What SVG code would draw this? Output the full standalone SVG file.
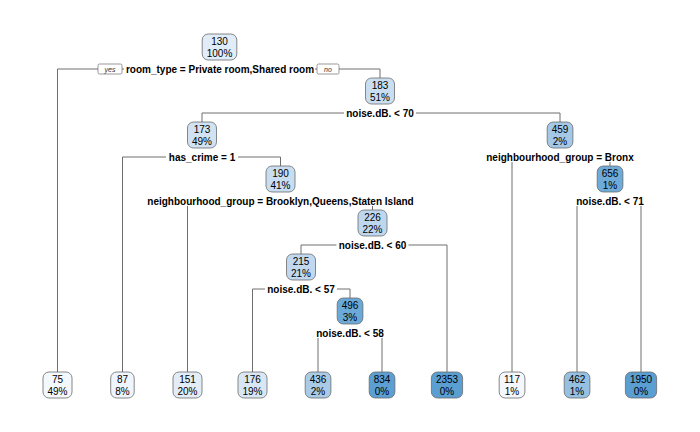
<svg xmlns="http://www.w3.org/2000/svg" width="700" height="432" viewBox="0 0 700 432">
<style>
.bg{fill:#ffffff}
.c line{stroke:#6e6e6e;stroke-width:1;fill:none}
.node rect{stroke:#6b6b6b;stroke-width:0.8}
.node text{font-family:"Liberation Sans",Arial,sans-serif;font-size:10px;fill:#000;text-anchor:middle}
.lab rect{fill:#ffffff;stroke:none}
.lab text{font-family:"Liberation Sans",Arial,sans-serif;font-size:10px;font-weight:bold;fill:#000;text-anchor:middle}
.yn rect{fill:#ffffff;stroke:#6e6e6e;stroke-width:0.7}
.yn text{font-family:"Liberation Sans",Arial,sans-serif;font-size:7px;font-style:italic;fill:#333;text-anchor:middle}
</style>
<rect class="bg" x="0" y="0" width="700" height="432"/>
<g id="connectors" class="c">
<line x1="57.5" y1="69" x2="380" y2="69"/>
<line x1="57.5" y1="69" x2="57.5" y2="372"/>
<line x1="380" y1="69" x2="380" y2="78"/>
<line x1="202" y1="113" x2="560" y2="113"/>
<line x1="202" y1="113" x2="202" y2="122"/>
<line x1="560" y1="113" x2="560" y2="122"/>
<line x1="122.5" y1="157" x2="280.5" y2="157"/>
<line x1="122.5" y1="157" x2="122.5" y2="372"/>
<line x1="280.5" y1="157" x2="280.5" y2="166"/>
<line x1="187.5" y1="201" x2="372.5" y2="201"/>
<line x1="187.5" y1="201" x2="187.5" y2="372"/>
<line x1="372.5" y1="201" x2="372.5" y2="210"/>
<line x1="301" y1="245" x2="447" y2="245"/>
<line x1="301" y1="245" x2="301" y2="254"/>
<line x1="447" y1="245" x2="447" y2="372"/>
<line x1="252.5" y1="289" x2="350" y2="289"/>
<line x1="252.5" y1="289" x2="252.5" y2="372"/>
<line x1="350" y1="289" x2="350" y2="298"/>
<line x1="318" y1="333" x2="382" y2="333"/>
<line x1="318" y1="333" x2="318" y2="372"/>
<line x1="382" y1="333" x2="382" y2="372"/>
<line x1="512" y1="157" x2="610" y2="157"/>
<line x1="512" y1="157" x2="512" y2="372"/>
<line x1="610" y1="157" x2="610" y2="166"/>
<line x1="577" y1="201" x2="641" y2="201"/>
<line x1="577" y1="201" x2="577" y2="372"/>
<line x1="641" y1="201" x2="641" y2="372"/>
</g>
<g id="split-labels" class="lab">
<rect x="124" y="63" width="191" height="11"/><text x="220" y="72.5">room_type = Private room,Shared room</text>
<rect x="344" y="107" width="72" height="11"/><text x="380" y="116.5">noise.dB. &lt; 70</text>
<rect x="166" y="151" width="72" height="11"/><text x="202" y="160.5">has_crime = 1</text>
<rect x="148" y="195" width="265" height="11"/><text x="280.5" y="204.5">neighbourhood_group = Brooklyn,Queens,Staten Island</text>
<rect x="336.5" y="239" width="72" height="11"/><text x="372.5" y="248.5">noise.dB. &lt; 60</text>
<rect x="265" y="283" width="72" height="11"/><text x="301" y="292.5">noise.dB. &lt; 57</text>
<rect x="314" y="327" width="72" height="11"/><text x="350" y="336.5">noise.dB. &lt; 58</text>
<rect x="486" y="151" width="148" height="11"/><text x="560" y="160.5">neighbourhood_group = Bronx</text>
<rect x="574" y="195" width="72" height="11"/><text x="610" y="204.5">noise.dB. &lt; 71</text>
</g>
<g id="yes-no" class="yn">
<rect x="98" y="64" width="24" height="10" rx="1.5"/><text x="110" y="71.5">yes</text>
<rect x="317" y="64" width="22" height="10" rx="1.5"/><text x="328" y="71.5">no</text>
</g>
<g id="n1" class="node"><rect x="202.2" y="34" width="34.6" height="26" rx="6" fill="#e0ecf8"/><text x="219.5" y="45">130</text><text x="219.5" y="56.5">100%</text></g>
<g id="n3" class="node"><rect x="365.5" y="78" width="29" height="26" rx="6" fill="#cadef1"/><text x="380" y="89">183</text><text x="380" y="100.5">51%</text></g>
<g id="n6" class="node"><rect x="187.5" y="122" width="29" height="26" rx="6" fill="#d1e2f3"/><text x="202" y="133">173</text><text x="202" y="144.5">49%</text></g>
<g id="n7" class="node"><rect x="547.2" y="122" width="25.7" height="26" rx="6" fill="#a5c8e7"/><text x="560" y="133">459</text><text x="560" y="144.5">2%</text></g>
<g id="n13" class="node"><rect x="266" y="166" width="29" height="26" rx="6" fill="#c9ddf0"/><text x="280.5" y="177">190</text><text x="280.5" y="188.5">41%</text></g>
<g id="n15" class="node"><rect x="597.2" y="166" width="25.7" height="26" rx="6" fill="#6eabd9"/><text x="610" y="177">656</text><text x="610" y="188.5">1%</text></g>
<g id="n27" class="node"><rect x="358" y="210" width="29" height="26" rx="6" fill="#bfd7ee"/><text x="372.5" y="221">226</text><text x="372.5" y="232.5">22%</text></g>
<g id="n54" class="node"><rect x="286.5" y="254" width="29" height="26" rx="6" fill="#c1d8ee"/><text x="301" y="265">215</text><text x="301" y="276.5">21%</text></g>
<g id="n109" class="node"><rect x="337.2" y="298" width="25.7" height="26" rx="6" fill="#6aa9d8"/><text x="350" y="309">496</text><text x="350" y="320.5">3%</text></g>
<g id="leaf2" class="node"><rect x="43" y="372" width="29" height="26" rx="6" fill="#f3f8fd"/><text x="57.5" y="383">75</text><text x="57.5" y="394.5">49%</text></g>
<g id="leaf12" class="node"><rect x="110.7" y="372" width="23.5" height="26" rx="6" fill="#eef5fc"/><text x="122.5" y="383">87</text><text x="122.5" y="394.5">8%</text></g>
<g id="leaf26" class="node"><rect x="173" y="372" width="29" height="26" rx="6" fill="#e2edf8"/><text x="187.5" y="383">151</text><text x="187.5" y="394.5">20%</text></g>
<g id="leaf108" class="node"><rect x="238" y="372" width="29" height="26" rx="6" fill="#d9e7f5"/><text x="252.5" y="383">176</text><text x="252.5" y="394.5">19%</text></g>
<g id="leaf218" class="node"><rect x="305.2" y="372" width="25.7" height="26" rx="6" fill="#a9cbe7"/><text x="318" y="383">436</text><text x="318" y="394.5">2%</text></g>
<g id="leaf219" class="node"><rect x="369.2" y="372" width="25.7" height="26" rx="6" fill="#5c9fd3"/><text x="382" y="383">834</text><text x="382" y="394.5">0%</text></g>
<g id="leaf55" class="node"><rect x="431.4" y="372" width="31.2" height="26" rx="6" fill="#5a9ed2"/><text x="447" y="383">2353</text><text x="447" y="394.5">0%</text></g>
<g id="leaf14" class="node"><rect x="499.2" y="372" width="25.7" height="26" rx="6" fill="#f4f8fd"/><text x="512" y="383">117</text><text x="512" y="394.5">1%</text></g>
<g id="leaf30" class="node"><rect x="564.2" y="372" width="25.7" height="26" rx="6" fill="#96c0e2"/><text x="577" y="383">462</text><text x="577" y="394.5">1%</text></g>
<g id="leaf31" class="node"><rect x="625.4" y="372" width="31.2" height="26" rx="6" fill="#5a9ed2"/><text x="641" y="383">1950</text><text x="641" y="394.5">0%</text></g>
</svg>
